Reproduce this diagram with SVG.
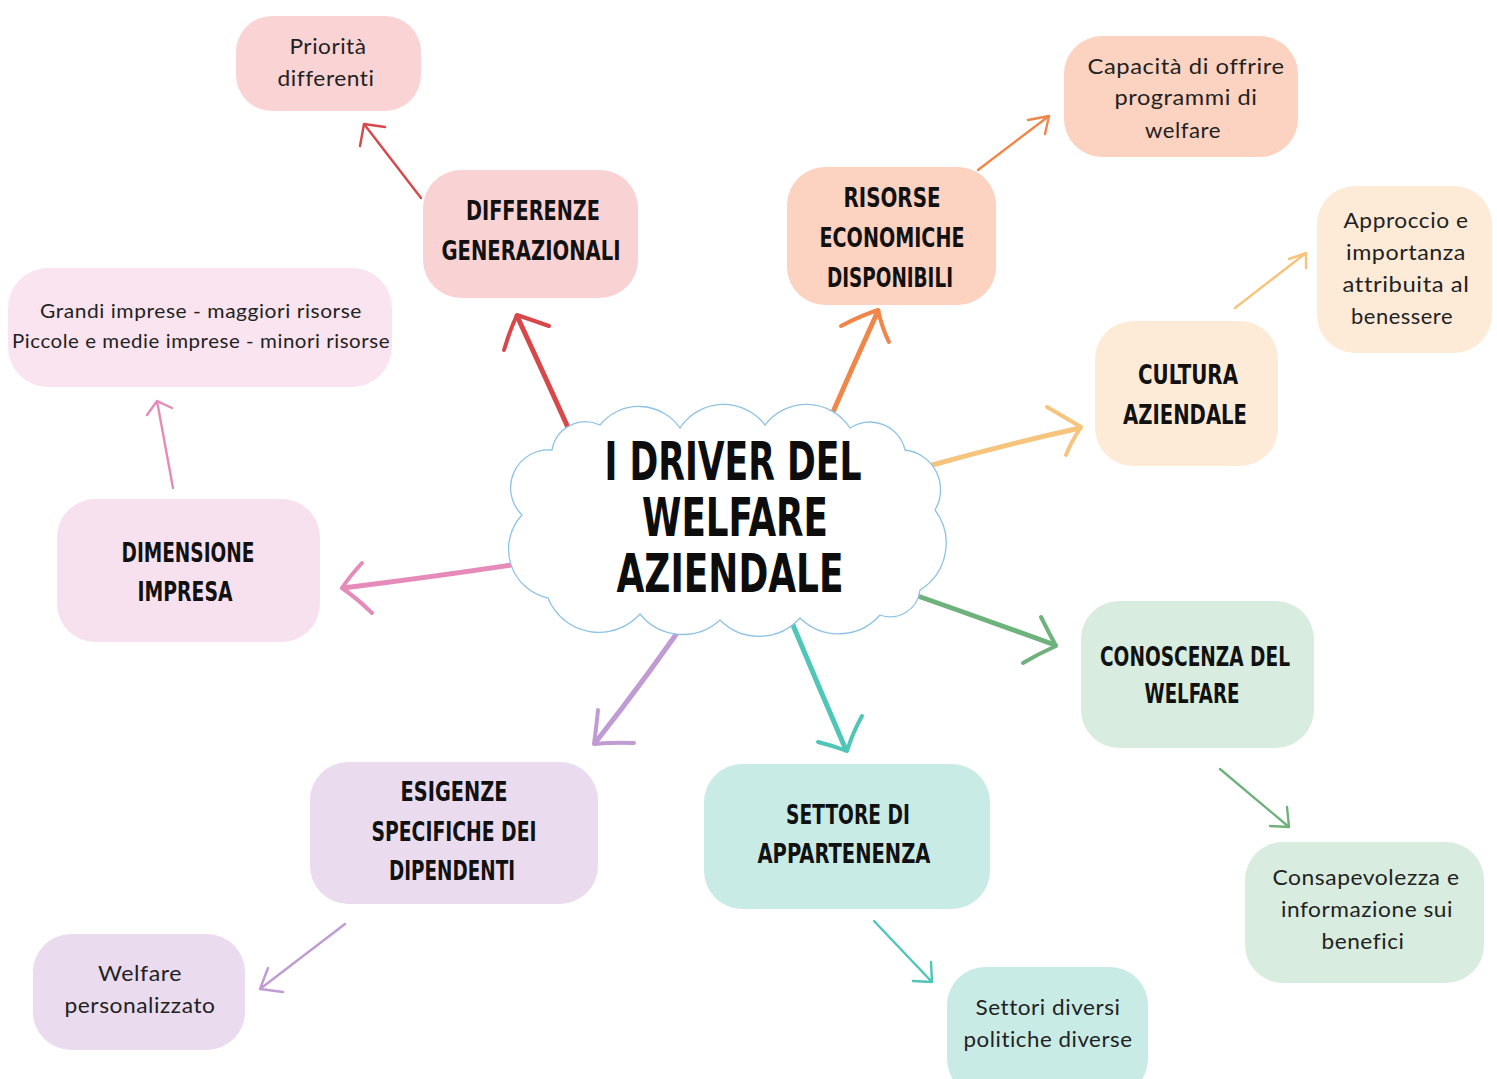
<svg xmlns="http://www.w3.org/2000/svg" width="1497" height="1079" viewBox="0 0 1497 1079">
<style>
.b{font-family:"DejaVu Sans Condensed","DejaVu Sans",sans-serif;font-weight:bold;font-stretch:condensed;font-size:27px;fill:#111;text-anchor:middle}
.s{font-family:Lato,"Noto Sans",sans-serif;font-size:21px;fill:#222;text-anchor:middle;letter-spacing:0.5px}
.t{font-family:"DejaVu Sans Condensed","DejaVu Sans",sans-serif;font-weight:bold;font-stretch:condensed;font-size:53px;fill:#0d0d0d;text-anchor:middle}
.m{fill:none;stroke-width:5;stroke-linecap:round;stroke-linejoin:round}
.h{fill:none;stroke-width:4;stroke-linecap:round;stroke-linejoin:round}
.n{fill:none;stroke-width:2.4;stroke-linecap:round;stroke-linejoin:round}
.red{stroke:#d8484b}.ora{stroke:#f0874a}.yel{stroke:#f6c47c}.pnk{stroke:#e68bb9}.lav{stroke:#c19bd3}.tea{stroke:#4fc6b8}.grn{stroke:#6fb27c}
</style>
<rect width="1497" height="1079" fill="#ffffff"/>

<g id="connectors">
  <!-- main arrows -->
  <path class="m red" d="M570,432 Q543,372 517,316"/>
  <path class="h red" d="M504,350 Q510,330 517,315 Q532,320 549,326"/>
  <path class="m ora" d="M826,428 Q852,368 878,311"/>
  <path class="h ora" d="M841,326 Q860,316 878,310 Q882,328 889,342"/>
  <path class="m yel" d="M925,467 Q1003,445 1080,428"/>
  <path class="h yel" d="M1047,407 Q1066,418 1081,427 Q1071,442 1066,455"/>
  <path class="m pnk" d="M525,563 Q432,577 343,588"/>
  <path class="h pnk" d="M362,563 Q350,576 342,588 Q359,600 372,613"/>
  <path class="m lav" d="M700,600 Q648,676 595,743"/>
  <path class="h lav" d="M598,710 Q596,730 594,744 Q615,742 634,743"/>
  <path class="m tea" d="M790,618 Q818,685 846,750"/>
  <path class="h tea" d="M818,742 Q834,746 847,751 Q853,732 862,716"/>
  <path class="m grn" d="M895,588 Q975,616 1055,645"/>
  <path class="h grn" d="M1041,617 Q1049,633 1056,646 Q1038,654 1023,663"/>
  <!-- secondary arrows -->
  <path class="n red" d="M421,198 L364,124 M385,127 L364,124 L360,146"/>
  <path class="n ora" d="M978,170 L1049,116 M1028,120 L1049,116 L1045,134"/>
  <path class="n yel" d="M1235,308 L1306,253 M1289,259 L1306,253 L1306,268"/>
  <path class="n pnk" d="M173,488 L157,401 M147,415 L157,401 L172,408"/>
  <path class="n lav" d="M345,924 L260,989 M268,968 L260,989 L283,992"/>
  <path class="n grn" d="M1220,769 L1289,827 M1270,826 L1289,827 L1287,807"/>
  <path class="n tea" d="M874,921 L932,982 M913,981 L932,982 L931,962"/>
</g>

<g id="center">
  <path d="M552,450 A34,34 0 0 1 600,425 A50,50 0 0 1 680,428 A52,52 0 0 1 765,425 A52,52 0 0 1 850,428 A36,36 0 0 1 905,450 A40,40 0 0 1 935,510 A55,55 0 0 1 920,590 A30,30 0 0 1 880,615 A55,55 0 0 1 800,618 A55,55 0 0 1 720,620 A55,55 0 0 1 640,614 A55,55 0 0 1 548,598 A50,50 0 0 1 522,515 A38,38 0 0 1 552,450 Z" fill="#ffffff" stroke="#8fc3e6" stroke-width="1.3"/>
  <text class="t" x="733" y="480" textLength="257" lengthAdjust="spacingAndGlyphs">I DRIVER DEL</text>
  <text class="t" x="735" y="536" textLength="186" lengthAdjust="spacingAndGlyphs">WELFARE</text>
  <text class="t" x="730" y="592" textLength="227" lengthAdjust="spacingAndGlyphs">AZIENDALE</text>
</g>

<g id="priorita">
  <rect x="236" y="16" width="185" height="95" rx="36" fill="#fad3d5"/>
  <text class="s" x="328" y="54" textLength="77" lengthAdjust="spacingAndGlyphs">Priorità</text>
  <text class="s" x="326" y="86" textLength="97" lengthAdjust="spacingAndGlyphs">differenti</text>
</g>

<g id="differenze">
  <rect x="423" y="170" width="215" height="128" rx="38" fill="#f9d2d4"/>
  <text class="b" x="533" y="220" textLength="134" lengthAdjust="spacingAndGlyphs">DIFFERENZE</text>
  <text class="b" x="531" y="260" textLength="179" lengthAdjust="spacingAndGlyphs">GENERAZIONALI</text>
</g>

<g id="risorse">
  <rect x="787" y="167" width="209" height="138" rx="38" fill="#fcd2c1"/>
  <text class="b" x="892" y="207" textLength="97" lengthAdjust="spacingAndGlyphs">RISORSE</text>
  <text class="b" x="892" y="247" textLength="145" lengthAdjust="spacingAndGlyphs">ECONOMICHE</text>
  <text class="b" x="890" y="287" textLength="126" lengthAdjust="spacingAndGlyphs">DISPONIBILI</text>
</g>

<g id="capacita">
  <rect x="1064" y="36" width="234" height="121" rx="38" fill="#fcd2c1"/>
  <text class="s" x="1186" y="74" textLength="197" lengthAdjust="spacingAndGlyphs">Capacità di offrire</text>
  <text class="s" x="1186" y="105" textLength="143" lengthAdjust="spacingAndGlyphs">programmi di</text>
  <text class="s" x="1183" y="138" textLength="76" lengthAdjust="spacingAndGlyphs">welfare</text>
</g>

<g id="approccio">
  <rect x="1317" y="186" width="175" height="167" rx="38" fill="#fdebd8"/>
  <text class="s" x="1406" y="228" textLength="125" lengthAdjust="spacingAndGlyphs">Approccio e</text>
  <text class="s" x="1406" y="260" textLength="120" lengthAdjust="spacingAndGlyphs">importanza</text>
  <text class="s" x="1406" y="292" textLength="127" lengthAdjust="spacingAndGlyphs">attribuita al</text>
  <text class="s" x="1402" y="324" textLength="102" lengthAdjust="spacingAndGlyphs">benessere</text>
</g>

<g id="cultura">
  <rect x="1095" y="321" width="183" height="145" rx="38" fill="#fdebd8"/>
  <text class="b" x="1188" y="384" textLength="100" lengthAdjust="spacingAndGlyphs">CULTURA</text>
  <text class="b" x="1185" y="424" textLength="124" lengthAdjust="spacingAndGlyphs">AZIENDALE</text>
</g>

<g id="conoscenza">
  <rect x="1081" y="601" width="233" height="147" rx="38" fill="#d8ecdf"/>
  <text class="b" x="1195" y="666" textLength="190" lengthAdjust="spacingAndGlyphs">CONOSCENZA DEL</text>
  <text class="b" x="1192" y="703" textLength="95" lengthAdjust="spacingAndGlyphs">WELFARE</text>
</g>

<g id="consapevolezza">
  <rect x="1245" y="842" width="239" height="141" rx="38" fill="#d8ecdf"/>
  <text class="s" x="1366" y="885" textLength="187" lengthAdjust="spacingAndGlyphs">Consapevolezza e</text>
  <text class="s" x="1367" y="917" textLength="172" lengthAdjust="spacingAndGlyphs">informazione sui</text>
  <text class="s" x="1363" y="949" textLength="83" lengthAdjust="spacingAndGlyphs">benefici</text>
</g>

<g id="settore">
  <rect x="704" y="764" width="286" height="145" rx="38" fill="#c9ebe6"/>
  <text class="b" x="848" y="824" textLength="124" lengthAdjust="spacingAndGlyphs">SETTORE DI</text>
  <text class="b" x="844" y="863" textLength="173" lengthAdjust="spacingAndGlyphs">APPARTENENZA</text>
</g>

<g id="settori">
  <rect x="947" y="967" width="201" height="130" rx="38" fill="#c9ebe6"/>
  <text class="s" x="1048" y="1015" textLength="145" lengthAdjust="spacingAndGlyphs">Settori diversi</text>
  <text class="s" x="1048" y="1047" textLength="169" lengthAdjust="spacingAndGlyphs">politiche diverse</text>
</g>

<g id="esigenze">
  <rect x="310" y="762" width="288" height="142" rx="38" fill="#eadcee"/>
  <text class="b" x="454" y="801" textLength="107" lengthAdjust="spacingAndGlyphs">ESIGENZE</text>
  <text class="b" x="454" y="841" textLength="165" lengthAdjust="spacingAndGlyphs">SPECIFICHE DEI</text>
  <text class="b" x="452" y="880" textLength="126" lengthAdjust="spacingAndGlyphs">DIPENDENTI</text>
</g>

<g id="personalizzato">
  <rect x="33" y="934" width="212" height="116" rx="38" fill="#eadcee"/>
  <text class="s" x="140" y="981" textLength="84" lengthAdjust="spacingAndGlyphs">Welfare</text>
  <text class="s" x="140" y="1013" textLength="151" lengthAdjust="spacingAndGlyphs">personalizzato</text>
</g>

<g id="dimensione">
  <rect x="57" y="499" width="263" height="143" rx="38" fill="#f8e1ee"/>
  <text class="b" x="188" y="562" textLength="133" lengthAdjust="spacingAndGlyphs">DIMENSIONE</text>
  <text class="b" x="185" y="601" textLength="95" lengthAdjust="spacingAndGlyphs">IMPRESA</text>
</g>

<g id="grandi">
  <rect x="8" y="268" width="384" height="119" rx="40" fill="#f9e4ef"/>
  <text class="s" x="201" y="318" style="font-size:19px" textLength="322" lengthAdjust="spacingAndGlyphs">Grandi imprese - maggiori risorse</text>
  <text class="s" x="201" y="348" style="font-size:19px" textLength="378" lengthAdjust="spacingAndGlyphs">Piccole e medie imprese - minori risorse</text>
</g>
</svg>
